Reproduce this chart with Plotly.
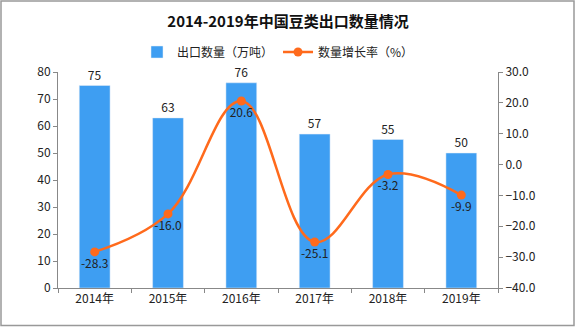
import plotly.graph_objects as go

years = ["2014年", "2015年", "2016年", "2017年", "2018年", "2019年"]
export_qty = [75, 63, 76, 57, 55, 50]
growth = [-28.3, -16.0, 20.6, -25.1, -3.2, -9.9]

W, H = 576, 327
L, R, T, B = 58, 78, 72, 39
pw, ph = W - L - R, H - T - B

font_main = "SimSun, 'Noto Sans CJK SC', 'DejaVu Sans', sans-serif"

fig = go.Figure()
fig.add_trace(go.Bar(
    x=years, y=export_qty, name="出口数量（万吨）",
    marker_color="#3E9EF2", width=0.42,
    text=[str(v) for v in export_qty], textposition="outside",
    textfont=dict(size=12, color="#222"), cliponaxis=False,
))
fig.add_trace(go.Scatter(
    x=years, y=growth, name="数量增长率（%）", yaxis="y2",
    mode="lines+markers+text", line=dict(color="#FF6A1C", width=2.5, shape="spline", smoothing=1.1),
    marker=dict(size=9, color="#FF6A1C"),
    text=[f"{v:.1f}" for v in growth], textposition="bottom center",
    textfont=dict(size=12, color="#222"), cliponaxis=False,
))

axis_common = dict(showline=True, linecolor="#888", linewidth=1, ticks="outside",
                   ticklen=4, tickcolor="#888", showgrid=False, zeroline=False,
                   tickfont=dict(size=12, color="#222"))
fig.update_layout(
    width=W, height=H,
    margin=dict(l=L, r=R, t=T, b=B),
    paper_bgcolor="white", plot_bgcolor="white",
    font=dict(family=font_main, color="#222"),
    title=dict(text="<b>2014-2019年中国豆类出口数量情况</b>", x=0.5, xanchor="center",
               y=1 - 22 / H, yanchor="middle", font=dict(size=15, color="#111")),
    legend=dict(orientation="h", x=0.5, xanchor="center", y=1 + 20 / ph, yanchor="middle",
                font=dict(size=12), bgcolor="rgba(0,0,0,0)"),
    xaxis=dict(**axis_common, tickson="boundaries"),
    yaxis=dict(**axis_common, range=[0, 80], dtick=10),
    yaxis2=dict(**axis_common, overlaying="y", side="right", range=[-40, 30], dtick=10,
                tickformat=".1f"),
    bargap=0.5,
)
fig.add_shape(type="rect", xref="paper", yref="paper",
              x0=(-L + 1) / pw, x1=(pw + R - 2) / pw, y0=(-B + 1.5) / ph, y1=(ph + T - 1) / ph,
              line=dict(color="#999", width=1.5), fillcolor="rgba(0,0,0,0)", layer="below")
fig.write_html("out.html")
